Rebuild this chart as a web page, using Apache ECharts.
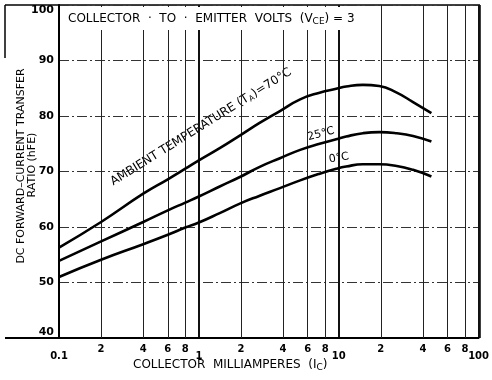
<!DOCTYPE html>
<html><head><meta charset="utf-8">
<script src="https://cdn.jsdelivr.net/npm/echarts@6/dist/echarts.min.js"></script>
<style>html,body{margin:0;padding:0;background:#fff}#c{width:492px;height:380px}</style>
</head><body><div id="c"></div>
<script>
// Collector current (mA) shared by the three curves
const currents = [0.1, 0.2, 0.4, 0.6, 0.8, 1.0, 1.41, 2.0, 2.7, 3.8, 5.3, 7.3, 9.6, 11.3, 14.9, 19.5, 26, 34, 46];
// DC forward-current transfer ratio (hFE) per ambient temperature
const hfe70 = [56.3, 60.9, 66.0, 68.6, 70.5, 72.0, 74.2, 76.6, 78.7, 80.9, 83.0, 84.2, 84.9, 85.3, 85.6, 85.4, 84.2, 82.5, 80.5];
const hfe25 = [53.9, 57.4, 60.9, 63.0, 64.4, 65.5, 67.3, 69.1, 70.8, 72.4, 73.9, 75.0, 75.8, 76.3, 76.9, 77.1, 76.9, 76.4, 75.4];
const hfe0  = [51.0, 54.1, 56.9, 58.6, 59.9, 60.8, 62.5, 64.3, 65.6, 67.0, 68.4, 69.6, 70.5, 70.9, 71.3, 71.3, 71.0, 70.3, 69.1];
const minorGridValues = [0.2, 0.4, 0.6, 0.8, 2, 4, 6, 8, 20, 40, 60, 80];
const minorTickLabels = ['2', '4', '6', '8', '2', '4', '6', '8', '2', '4', '6', '8'];
const decadeLabels = {0.1: '0.1', 1: '1', 10: '10', 100: '100'};

const FONT = 'DejaVu Sans';
const pair = (xs, ys) => xs.map((x, i) => [x, ys[i]]);
const chart = echarts.init(document.getElementById('c'), null, {renderer: 'canvas'});
const lineSeries = (name, ys) => ({
  name, type: 'line', smooth: 0.5, symbol: 'none',
  data: pair(currents, ys), lineStyle: {color: '#000', width: 2.6}, z: 5
});
const s70 = lineSeries('70°C', hfe70);
s70.markLine = {
  silent: true, symbol: ['none', 'none'], animation: false,
  lineStyle: {color: '#222', width: 1, type: 'solid'},
  label: {show: true, position: 'start', distance: 6, color: '#000',
          fontFamily: FONT, fontSize: 10, fontWeight: 'bold',
          formatter: p => minorTickLabels[p.dataIndex]},
  data: minorGridValues.map(v => ({xAxis: v}))
};
const sub = {fontFamily: FONT, fontSize: 9, fill: '#000', padding: [6, 0, 0, 0]};
const nrm = {fontFamily: FONT, fontSize: 12, fill: '#000'};
chart.setOption({
  animation: false,
  grid: {left: 59, right: 12, top: 5, bottom: 42, show: false},
  xAxis: {
    type: 'log', logBase: 10, min: 0.1, max: 100,
    axisLine: {show: true, lineStyle: {color: '#000', width: 2}},
    axisTick: {show: false},
    axisLabel: {margin: 13, color: '#000', fontFamily: FONT, fontSize: 10, fontWeight: 'bold',
                formatter: v => decadeLabels[+v.toPrecision(3)] || ''},
    splitLine: {show: true, lineStyle: {color: '#111', width: 2}}
  },
  yAxis: {
    type: 'value', min: 40, max: 100, interval: 10,
    axisLine: {show: true, lineStyle: {color: '#000', width: 2}},
    axisTick: {show: false},
    axisLabel: {margin: 5, color: '#000', fontFamily: FONT, fontSize: 11, fontWeight: 'bold',
                verticalAlignMaxLabel: 'top', verticalAlignMinLabel: 'bottom'},
    splitLine: {show: true, lineStyle: {color: '#333', width: 1, type: [10, 3, 2, 3]}}
  },
  series: [s70, lineSeries('25°C', hfe25), lineSeries('0°C', hfe0)],
  graphic: [
    {type: 'line', shape: {x1: 5, y1: 5, x2: 480, y2: 5}, style: {stroke: '#000', lineWidth: 1.5}},
    {type: 'line', shape: {x1: 480, y1: 5, x2: 480, y2: 338}, style: {stroke: '#000', lineWidth: 1.5}},
    {type: 'line', shape: {x1: 5, y1: 5, x2: 5, y2: 58}, style: {stroke: '#000', lineWidth: 1.5}},
    {type: 'line', shape: {x1: 5, y1: 338, x2: 59, y2: 338}, style: {stroke: '#000', lineWidth: 2}},
    {type: 'text', left: 64, top: 7, z: 100,
     style: {text: '{n|COLLECTOR  ·  TO  ·  EMITTER  VOLTS  (V}{s|CE}{n|) = 3}', rich: {n: nrm, s: sub},
             backgroundColor: '#fff', padding: [4, 4, 4, 4]}},
    {type: 'text', left: 133, top: 359,
     style: {text: '{n|COLLECTOR  MILLIAMPERES  (I}{s|C}{n|)}', rich: {n: nrm, s: sub}}},
    {type: 'text', x: 21, y: 166, rotation: Math.PI / 2,
     style: {text: 'DC FORWARD–CURRENT TRANSFER', fill: '#000', fontFamily: FONT, fontSize: 11,
             align: 'center', verticalAlign: 'middle'}},
    {type: 'text', x: 32, y: 165, rotation: Math.PI / 2,
     style: {text: 'RATIO (hFE)', fill: '#000', fontFamily: FONT, fontSize: 11,
             align: 'center', verticalAlign: 'middle'}},
    {type: 'text', x: 201, y: 127, rotation: 32 * Math.PI / 180,
     style: {text: '{n|AMBIENT TEMPERATURE (T}{s|A}{n|)=70°C}', align: 'center', verticalAlign: 'middle',
             rich: {n: {fontFamily: FONT, fontSize: 12, fill: '#000'},
                    s: {fontFamily: FONT, fontSize: 8, fill: '#000', padding: [6, 0, 0, 0]}}}},
    {type: 'text', x: 321, y: 134, rotation: 15 * Math.PI / 180,
     style: {text: '25°C', fill: '#000', fontFamily: FONT, fontSize: 11, align: 'center', verticalAlign: 'middle'}},
    {type: 'text', x: 339, y: 158, rotation: 10 * Math.PI / 180,
     style: {text: '0°C', fill: '#000', fontFamily: FONT, fontSize: 11, align: 'center', verticalAlign: 'middle'}}
  ]
});
</script></body></html>
